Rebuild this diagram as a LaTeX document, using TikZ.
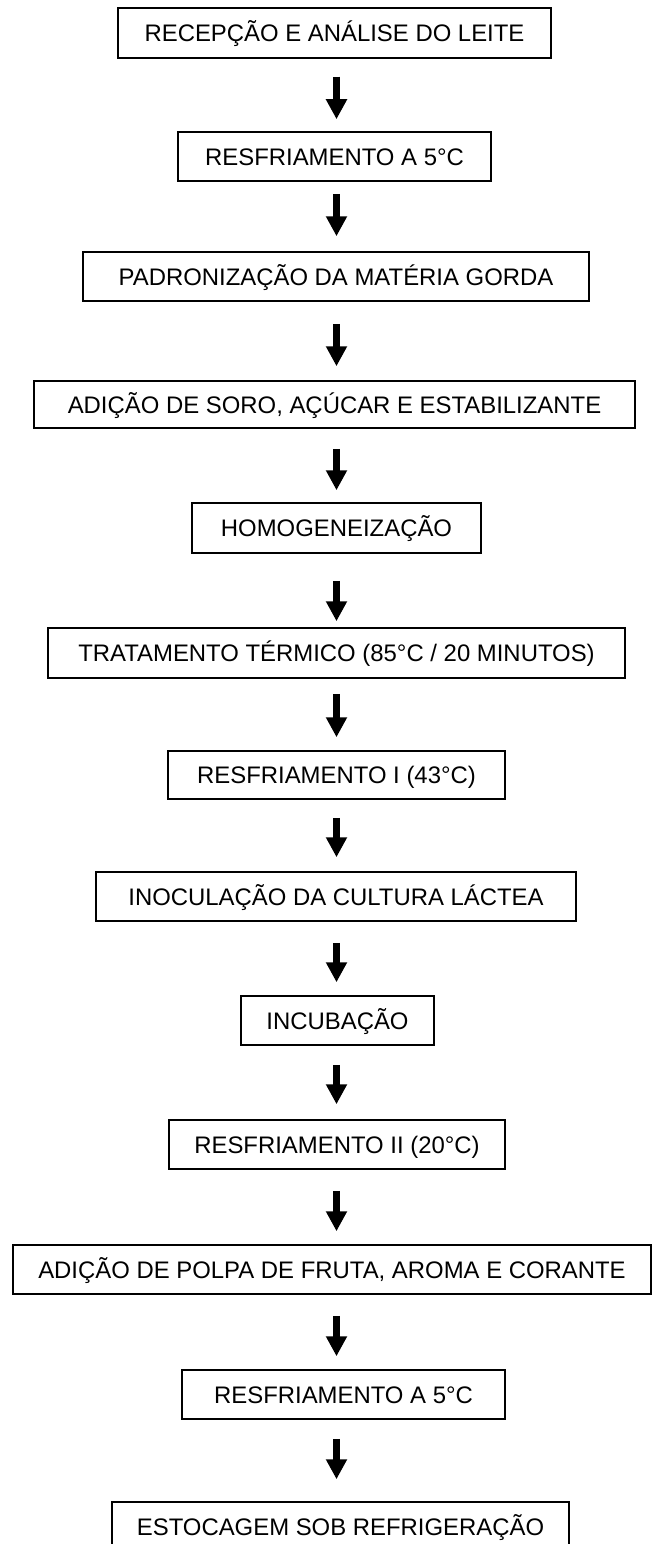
\documentclass[tikz,border=0pt]{standalone}
\usepackage{fontspec}
\setmainfont{Liberation Sans}
\usetikzlibrary{arrows.meta}
\tikzset{
  stepbox/.style={draw=black, line width=1.5pt, inner sep=0pt, text height=17.1pt, text depth=0pt,
    font=\fontsize{23.9}{28}\selectfont},
  flowarrow/.style={line width=7pt, -{Triangle[width=20pt,length=20pt]}},
}
% name, left, right, top, bottom, text
\newcommand\mkbox[6]{%
  \node[stepbox, minimum width={(#3-#2)*1pt}, minimum height={(#5-#4)*1pt}]
    (#1) at ({(#2+#3)/2},{-(#4+#5)/2}) {#6};}
% from, to, arrow start y, arrow end y (pixels)
\newcommand\mkarrow[4]{%
  \draw[flowarrow] (#1.south -| ax) ++(0,{-(#3)}) coordinate (s#1) -- (#2.north -| ax) ++(0,{#4});}
\begin{document}
\begin{tikzpicture}[x=1pt,y=1pt]
\useasboundingbox (0,0) rectangle (653,-1544);
\coordinate (ax) at (336.5,0);
\mkbox{b1}{118}{551}{8}{58}{RECEPÇÃO E ANÁLISE DO LEITE}
\mkbox{b2}{178}{491}{132}{181}{RESFRIAMENTO A 5°C}
\mkbox{b3}{83}{589}{252}{301}{PADRONIZAÇÃO DA MATÉRIA GORDA}
\mkbox{b4}{34}{635}{381}{428}{ADIÇÃO DE SORO, AÇÚCAR E ESTABILIZANTE}
\mkbox{b5}{192}{481}{503}{553}{HOMOGENEIZAÇÃO}
\mkbox{b6}{48}{625}{628}{678}{TRATAMENTO TÉRMICO (85°C / 20 MINUTOS)}
\mkbox{b7}{168}{505}{751}{799}{RESFRIAMENTO I (43°C)}
\mkbox{b8}{96}{576}{872}{921}{INOCULAÇÃO DA CULTURA LÁCTEA}
\mkbox{b9}{241}{434}{996}{1045}{INCUBAÇÃO}
\mkbox{b10}{169}{505}{1120}{1169}{RESFRIAMENTO II (20°C)}
\mkbox{b11}{13}{651}{1245}{1294}{ADIÇÃO DE POLPA DE FRUTA, AROMA E CORANTE}
\mkbox{b12}{182}{505}{1370}{1419}{RESFRIAMENTO A 5°C}
\mkbox{b13}{112}{569}{1502}{1551}{ESTOCAGEM SOB REFRIGERAÇÃO}
\draw[flowarrow, shorten <=18pt, shorten >=12pt] (b1.south -| ax) -- (b2.north -| ax);
\draw[flowarrow, shorten <=12pt, shorten >=15pt] (b2.south -| ax) -- (b3.north -| ax);
\draw[flowarrow, shorten <=22pt, shorten >=14pt] (b3.south -| ax) -- (b4.north -| ax);
\draw[flowarrow, shorten <=20pt, shorten >=12pt] (b4.south -| ax) -- (b5.north -| ax);
\draw[flowarrow, shorten <=27pt, shorten >=6pt] (b5.south -| ax) -- (b6.north -| ax);
\draw[flowarrow, shorten <=15pt, shorten >=13pt] (b6.south -| ax) -- (b7.north -| ax);
\draw[flowarrow, shorten <=18pt, shorten >=14pt] (b7.south -| ax) -- (b8.north -| ax);
\draw[flowarrow, shorten <=21pt, shorten >=13pt] (b8.south -| ax) -- (b9.north -| ax);
\draw[flowarrow, shorten <=19pt, shorten >=15pt] (b9.south -| ax) -- (b10.north -| ax);
\draw[flowarrow, shorten <=21pt, shorten >=13pt] (b10.south -| ax) -- (b11.north -| ax);
\draw[flowarrow, shorten <=21pt, shorten >=13pt] (b11.south -| ax) -- (b12.north -| ax);
\draw[flowarrow, shorten <=19pt, shorten >=22pt] (b12.south -| ax) -- (b13.north -| ax);
\end{tikzpicture}
\end{document}
